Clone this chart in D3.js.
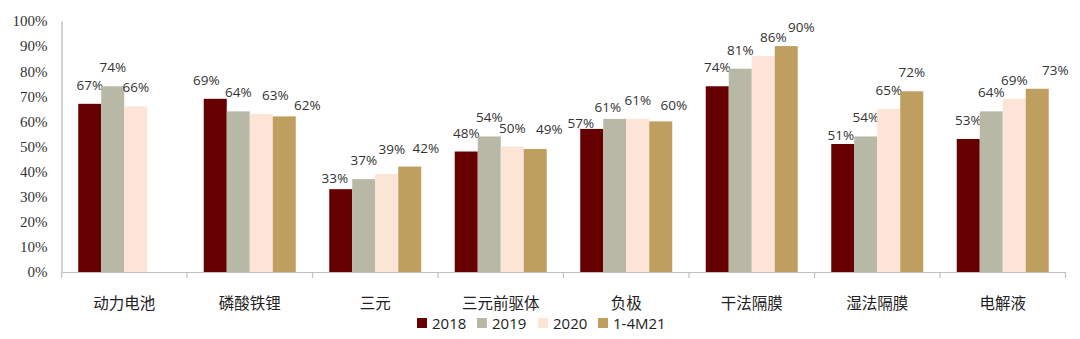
<!DOCTYPE html>
<html><head><meta charset="utf-8">
<script src="https://cdn.jsdelivr.net/npm/d3@7"></script>
<style>html,body{margin:0;padding:0;background:#fff;}svg{display:block;}
.ytick text{font-family:"Liberation Serif","Times New Roman",serif !important;font-size:15px !important;fill:#333;}
</style>
</head><body>
<svg id="chart" width="1080" height="339"></svg>
<script>
const categories = ["动力电池","磷酸铁锂","三元","三元前驱体","负极","干法隔膜","湿法隔膜","电解液"];
const seriesNames = ["2018","2019","2020","1-4M21"];
const s2018 = [67,69,33,48,57,74,51,53];
const s2019 = [74,64,37,54,61,81,54,64];
const s2020 = [66,63,39,50,61,86,65,69];
const s2021 = [null,62,42,49,60,90,72,73];
const yTicks = [0,10,20,30,40,50,60,70,80,90,100];

const colors = ["#660000","#B8B8A6","#FCE4D6","#BF9F5F"];
const seriesValues = [s2018,s2019,s2020,s2021];
// label nudges (dx,dy) keyed "categoryIndex-seriesIndex"
const labelNudge = {"1-0":[-9,0],"1-2":[14,0],"1-3":[23,8],"2-0":[-6,8],"2-2":[5,-6],"2-3":[16,0],
  "3-3":[14,-1],"4-0":[-11,13],"4-1":[-7,7],"4-3":[13,3],"5-2":[10,0],"5-3":[15,0],"6-0":[-2,10],"7-3":[18,0]};

const svg = d3.select("#chart");
const x0 = d3.scaleBand().domain(categories).range([61.5,1065.5]).padding(0);
const x1 = d3.scaleBand().domain(seriesNames).range([0,92]).padding(0);
const y = d3.scaleLinear().domain([0,100]).range([272,21]);

// y axis
const yAxis = d3.axisLeft(y).tickValues(yTicks).tickFormat(d=>d+"%").tickSize(0).tickPadding(14);
const gy = svg.append("g").attr("class","ytick").attr("transform","translate(61.5,0)").call(yAxis)
  .attr("font-family",null).attr("font-size",null);
gy.select(".domain").attr("stroke","#A6A6A6");

// bars
categories.forEach((c,i)=>{
  const off = x0(c) + (x0.bandwidth()-92)/2;
  seriesNames.forEach((s,j)=>{
    const v = seriesValues[j][i];
    if(v==null) return;
    const bx = off + x1(s);
    svg.append("rect").attr("x",bx).attr("y",y(v)).attr("width",x1.bandwidth()).attr("height",y(0)-y(v))
      .attr("fill",colors[j]);
    const n = labelNudge[i+"-"+j] || [0,0];
    svg.append("text").attr("x",bx+x1.bandwidth()/2+n[0]).attr("y",y(v)-14+n[1])
      .attr("text-anchor","middle").style("font-family","'Open Sans',sans-serif").style("font-size","13.5px")
      .attr("fill","#333").text(v+"%");
  });
});

// x axis
const xAxis = d3.axisBottom(x0).tickSize(0).tickPadding(0);
const gx = svg.append("g").attr("transform","translate(0,272)").call(xAxis);
gx.select(".domain").attr("stroke","#BFBFBF").attr("stroke-width",1.2);
gx.selectAll(".tick text").remove();
const bounds = categories.map(c=>x0(c)).concat([x0.range()[1]]);
gx.selectAll("line.sep").data(bounds).enter().append("line").attr("class","sep")
  .attr("x1",d=>d).attr("x2",d=>d).attr("y1",0).attr("y2",6).attr("stroke","#BFBFBF").attr("stroke-width",1.2);
svg.append("g").selectAll("text").data(categories).enter().append("text")
  .attr("x",d=>x0(d)+x0.bandwidth()/2).attr("y",302).attr("dominant-baseline","central")
  .attr("text-anchor","middle").style("font-family","'Noto Sans CJK SC',sans-serif").style("font-size","15.5px")
  .attr("fill","#222").text(d=>d);

// legend
const legendX = d3.scaleOrdinal().domain(seriesNames).range([417,477,538,598]);
const lg = svg.append("g");
seriesNames.forEach((s,j)=>{
  lg.append("rect").attr("x",legendX(s)).attr("y",318).attr("width",10).attr("height",10).attr("fill",colors[j]);
  lg.append("text").attr("x",legendX(s)+15).attr("y",323).attr("dominant-baseline","central")
    .style("font-family","'Open Sans',sans-serif").style("font-size","15px").attr("fill","#222").text(s);
});
</script>
</body></html>
